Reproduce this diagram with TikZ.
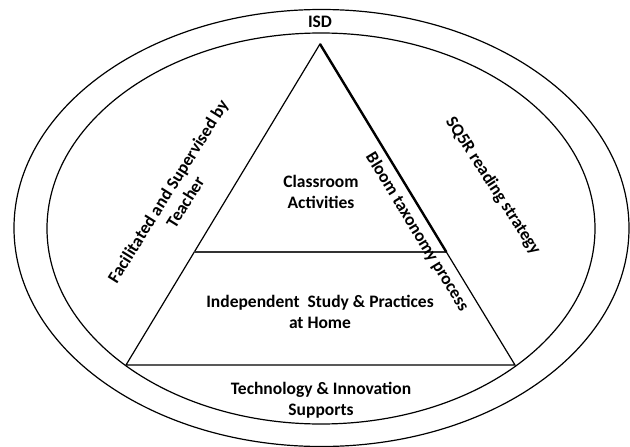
\documentclass[tikz,border=0pt]{standalone}
\usepackage{fontspec}
\setmainfont{Carlito}
\usetikzlibrary{calc}
\begin{document}
\begin{tikzpicture}[x=1pt,y=-1pt,
  ring/.style={draw=black,line width=1.2pt},
  edge/.style={draw=black,line width=1.2pt,line join=miter},
  divider/.style={draw=black!80,line width=1.8pt},
  emph/.style={draw=black,line width=2.4pt},
  lbl/.style={font=\bfseries\fontsize{17.5}{20.5}\selectfont,align=center,inner sep=0pt,text=black}]
\useasboundingbox (0,0) rectangle (630,447);
% nested ellipses
\draw[ring] (321.5,228) ellipse [x radius=307.5,y radius=218.5];
\draw[ring] (321,228.5) ellipse [x radius=274,y radius=195.5];
% triangle
\coordinate (apex) at (320,44);
\coordinate (bl) at (126,365);
\coordinate (br) at (515,365);
\draw[edge] (apex) -- (bl) -- (br) -- cycle;
% level divider
\coordinate (ml) at ($(apex)!0.648!(bl)$);
\coordinate (mr) at ($(apex)!0.648!(br)$);
\draw[divider] (ml) -- (mr);
% emphasised upper right edge
\draw[emph] (apex) -- (mr);
% labels
\node[lbl] (isd) at (320,22) {ISD};
\node[lbl] (class) at (321,192) {Classroom\\Activities};
\node[lbl] (home) at (320,312) {Independent~ Study \& Practices\\at Home};
\node[lbl] (tech) at (321,400) {Technology \& Innovation\\Supports};
\node[lbl,rotate=58] (teach) at (176.5,196.5) {Facilitated and Supervised by\\Teacher};
\node[lbl,rotate=-57] (sq5r) at (493,186) {SQ5R reading strategy};
\node[lbl,rotate=-58.6] (bloom) at (417,232) {Bloom taxonomy process};
\end{tikzpicture}
\end{document}
